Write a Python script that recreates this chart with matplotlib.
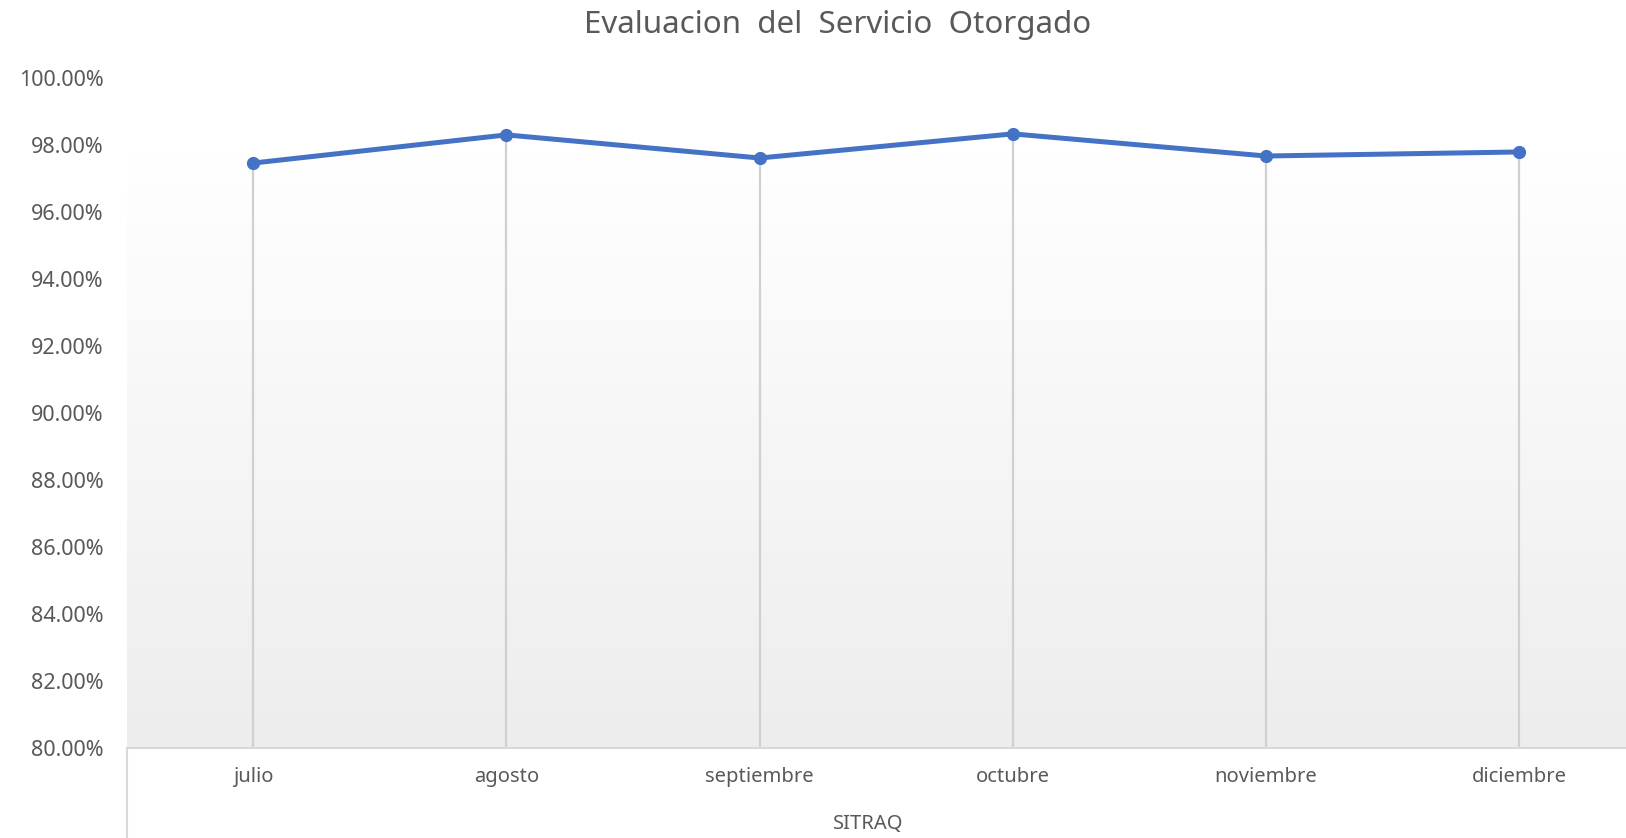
import numpy as np
import matplotlib.pyplot as plt
from matplotlib.colors import LinearSegmentedColormap

plt.rcParams['font.family'] = ['Noto Sans', 'DejaVu Sans']

meses = ['julio', 'agosto', 'septiembre', 'octubre', 'noviembre', 'diciembre']
valores = [97.46, 98.30, 97.61, 98.33, 97.67, 97.79]
yticks = [80, 82, 84, 86, 88, 90, 92, 94, 96, 98, 100]
titulo = 'Evaluacion  del  Servicio  Otorgado'
grupo = 'SITRAQ'

gris = '#595959'
x = np.arange(len(meses))

fig = plt.figure(figsize=(16.26, 8.38), dpi=100)
ax = fig.add_axes([0.078, 0.1074, 0.934, 0.7996])

# fondo degradado del area de trazado
cmap = LinearSegmentedColormap.from_list('fondo', ['#ededed', '#ffffff'])
grad = np.linspace(0, 1, 256).reshape(-1, 1)
ax.imshow(grad, cmap=cmap, aspect='auto', origin='lower',
          extent=[-0.5, 5.5, 80, 97.7], zorder=0)

# lineas de caida
ax.vlines(x, 80, valores, color='#d0d0d0', lw=1.6, zorder=1)

ax.plot(x, valores, color='#4472C4', lw=3.6, marker='o', ms=8.5,
        solid_joinstyle='round', zorder=3)

ax.set_xlim(-0.5, 5.5)
ax.set_ylim(80, 100)
ax.set_yticks(yticks)
ax.set_yticklabels([f'{v:.2f}%' for v in yticks])
ax.set_xticks(x)
ax.set_xticklabels(meses)
ax.tick_params(axis='both', length=0, colors=gris)
ax.tick_params(axis='y', pad=17, labelsize=15.5)
ax.tick_params(axis='x', pad=14, labelsize=14.5)

for s in ['top', 'right', 'left']:
    ax.spines[s].set_visible(False)
ax.spines['bottom'].set_color('#d9d9d9')
ax.spines['bottom'].set_linewidth(1.5)

# separador del eje de categorias multinivel
fig.add_artist(plt.Line2D([0.078, 0.078], [0, 0.1074], color='#d9d9d9',
                          lw=1.5, transform=fig.transFigure))

fig.text(0.515, 0.970, titulo, ha='center', va='center', fontsize=22.5, color=gris)
fig.text(0.534, 0.017, grupo, ha='center', va='center', fontsize=14.5, color=gris)

fig.savefig('out.png', dpi=100)
